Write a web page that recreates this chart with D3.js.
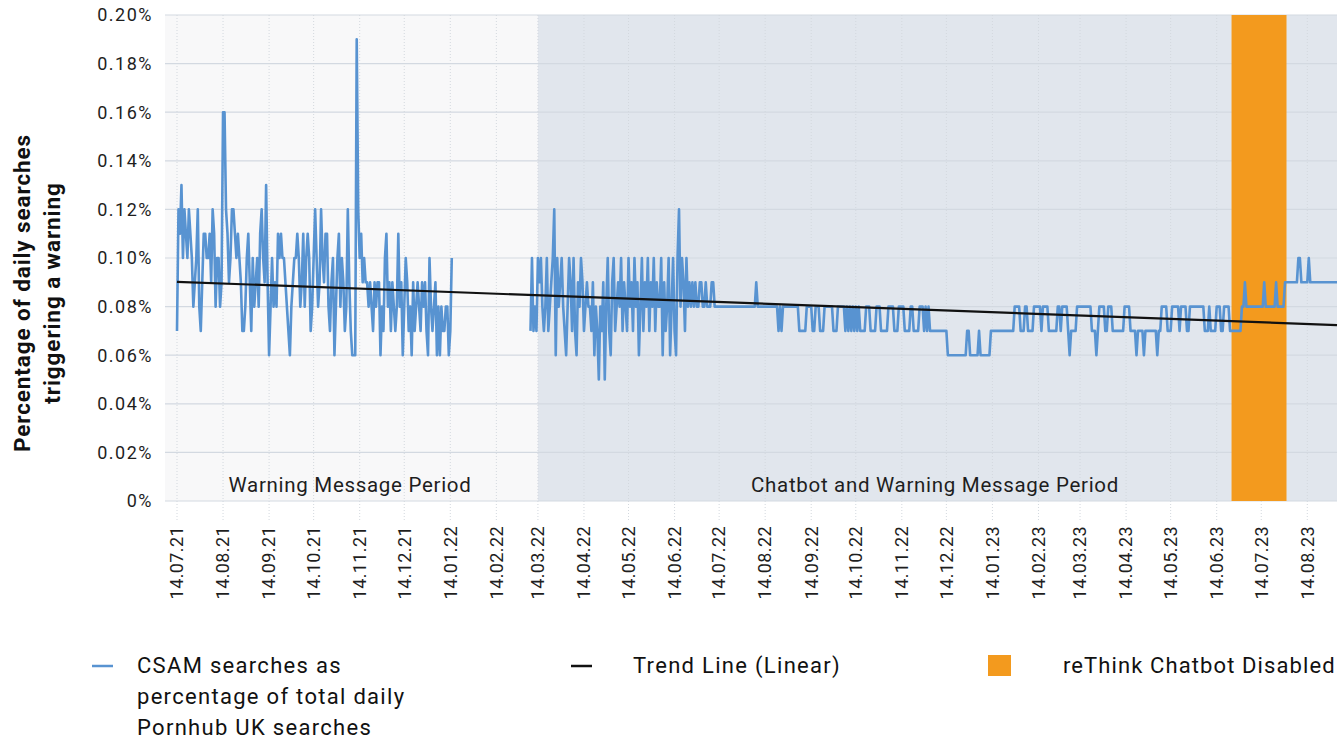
<!DOCTYPE html>
<html>
<head>
<meta charset="utf-8">
<script src="https://cdn.jsdelivr.net/npm/d3@7"></script>
<style>
  body { margin: 0; background: #fff; font-family: Roboto, "Noto Sans", sans-serif; }
</style>
</head>
<body>
<script>
// daily values in hundredths of a percent (7 = 0.07%)
const seg1Start = new Date(2021, 6, 14);
const seg1Values = [
  7,12,11,13,10,12,11,10,12,11,
  10,8,9,10,12,8,7,9,11,11,
  10,10,11,9,12,11,8,10,10,8,
  9,16,16,12,11,9,10,12,12,11,
  10,11,10,9,7,7,8,10,11,9,
  7,10,8,9,10,8,11,12,10,9,
  13,9,6,8,10,8,9,8,11,10,
  11,10,10,9,8,7,6,8,9,10,
  10,11,10,8,9,11,8,10,11,10,
  7,8,10,12,10,8,9,12,10,9,
  11,11,8,7,9,10,6,8,10,11,
  8,10,9,7,8,12,9,7,6,6,
  6,19,12,10,11,9,10,9,9,8,
  9,8,7,9,8,9,9,6,8,7,
  10,11,8,9,7,9,8,7,8,11,
  8,9,6,8,10,9,7,8,6,9,
  7,8,9,8,7,9,8,9,7,6,
  10,8,7,8,9,6,8,6,8,7,
  7,8,8,6,7,10
];

const seg2Start = new Date(2022, 2, 9);
const seg2Values = [
  7,10,7,8,7,10,9,10,8,7,
  8,10,7,8,9,10,12,6,10,8,
  9,10,8,7,6,8,10,9,7,10,
  7,6,9,8,10,9,7,8,9,8,
  8,7,9,6,8,7,5,8,7,9,
  5,8,10,7,6,9,10,7,8,9,
  8,10,7,9,8,7,10,8,9,7,
  10,8,9,6,8,10,7,9,8,10,
  7,9,8,10,7,9,8,8,10,6,
  9,7,8,10,6,8,10,7,6,10,
  12,8,10,9,7,10,8,9,8,9,
  8,9,8,8,9,9,8,8,9,8,
  8,8,9,9,8,8,8,8,
  8,8,8,8,8,8,8,8,8,8,
  8,8,8,8,8,8,8,8,8,8,
  8,8,8,8,9,8,8,8,8,8,
  8,8,8,8,8,8,8,8,8,7,
  8,7,8,8,8,8,8,8,8,8,
  8,8,8,7,7,7,7,7,8,8,
  8,8,7,7,8,8,8,7,7,7,
  8,8,8,8,8,8,7,7,7,8,
  8,8,8,8,7,8,7,8,7,8,
  7,8,7,8,7,7,7,7,8,8,
  8,7,7,7,7,8,8,8,7,7,
  7,7,7,8,8,8,8,7,7,7,
  8,8,8,8,7,7,7,7,8,8,
  7,7,7,7,8,8,8,7,8,7,
  8,7,7,7,7,7,7,7,7,7,
  7,7,7,6,6,6,6,6,6,6,
  6,6,6,6,6,6,7,7,6,6,
  6,6,6,6,7,6,6,6,6,6,
  6,6,7,7,7,7,7,7,7,7,
  7,7,7,7,7,7,7,7,8,8,
  8,8,7,7,7,8,8,7,7,7,
  7,8,8,8,8,8,7,8,8,8,
  8,7,7,7,7,7,7,8,8,7,
  8,8,8,8,7,6,7,7,7,7,
  8,8,8,8,8,8,8,8,8,8,
  7,7,7,6,7,8,8,8,8,7,
  7,8,8,8,7,7,7,7,7,7,
  7,7,8,8,8,8,7,7,7,7,
  6,7,7,7,7,6,7,7,7,7,
  7,7,7,7,6,7,7,8,8,8,
  8,7,7,7,8,8,8,8,8,7,
  8,8,8,8,7,7,8,8,8,8,
  8,8,8,8,8,8,7,7,7,8,
  7,7,7,7,8,8,8,7,7,8,
  8,8,8,7,7,7,7,7,7,7,
  7,8,8,9,8,8,8,8,8,8,
  8,8,8,8,8,8,9,8,8,8,
  8,8,8,8,9,8,8,8,8,8,
  9,9,9,9,9,9,9,9,9,10,
  10,9,9,9,9,9,10,9,9,9,
  9,9,9,9,9,9,9,9,9,9,
  9,9,9,9,9,9
];

const trendValues = [0.0902, 0.0724];          // % at first and last day
const periods = [
  { name: "Warning Message Period", from: new Date(2021, 6, 14), to: new Date(2022, 2, 14), fill: "#f8f8f9" },
  { name: "Chatbot and Warning Message Period", from: new Date(2022, 2, 14), to: new Date(2023, 8, 3), fill: "#e1e6ed" }
];
const disabledFrom = new Date(2023, 5, 24);
const disabledTo = new Date(2023, 6, 31);
const yTicks = [0, 0.02, 0.04, 0.06, 0.08, 0.10, 0.12, 0.14, 0.16, 0.18, 0.20];
const xTickLabels = ["14.07.21","14.08.21","14.09.21","14.10.21","14.11.21","14.12.21","14.01.22",
  "14.02.22","14.03.22","14.04.22","14.05.22","14.06.22","14.07.22","14.08.22","14.09.22","14.10.22",
  "14.11.22","14.12.22","14.01.23","14.02.23","14.03.23","14.04.23","14.05.23","14.06.23","14.07.23","14.08.23"];
const legendLabels = [
  ["CSAM searches as", "percentage of total daily", "Pornhub UK searches"],
  ["Trend Line (Linear)"],
  ["reThink Chatbot Disabled"]
];

const width = 1342, height = 739;
const gridLeft = 165, plotLeft = 177, plotRight = 1337, plotTop = 15, plotBottom = 501;

const parseTick = d3.timeParse("%d.%m.%y");
const endDate = new Date(2023, 8, 3);

const x = d3.scaleTime().domain([seg1Start, endDate]).range([plotLeft, plotRight]);
const y = d3.scaleLinear().domain([0, 0.2]).range([plotBottom, plotTop]);

const series = [];
seg1Values.forEach((v, i) => series.push({ date: d3.timeDay.offset(seg1Start, i), value: v / 100 }));
series.push({ date: d3.timeDay.offset(seg1Start, seg1Values.length), value: null });
seg2Values.forEach((v, i) => series.push({ date: d3.timeDay.offset(seg2Start, i), value: v / 100 }));

const svg = d3.select("body").append("svg")
  .attr("width", width)
  .attr("height", height);

// period backgrounds
svg.selectAll("rect.period")
  .data(periods)
  .join("rect")
  .attr("class", "period")
  .attr("x", (d, i) => i === 0 ? gridLeft : x(d.from))
  .attr("y", plotTop)
  .attr("width", (d, i) => x(d.to) - (i === 0 ? gridLeft : x(d.from)))
  .attr("height", plotBottom - plotTop)
  .attr("fill", d => d.fill);

// horizontal gridlines
svg.append("g")
  .selectAll("line")
  .data(yTicks)
  .join("line")
  .attr("x1", gridLeft)
  .attr("x2", plotRight)
  .attr("y1", d => y(d))
  .attr("y2", d => y(d))
  .attr("stroke", "#d3d9e1")
  .attr("stroke-width", 1.2);

// dotted vertical gridlines
const tickDates = xTickLabels.map(parseTick);
svg.append("g")
  .selectAll("line")
  .data(tickDates)
  .join("line")
  .attr("x1", d => x(d))
  .attr("x2", d => x(d))
  .attr("y1", plotTop)
  .attr("y2", plotBottom + 20)
  .attr("stroke", "#d3d8de")
  .attr("stroke-dasharray", "1,2");

// chatbot disabled band
svg.append("rect")
  .attr("x", x(disabledFrom))
  .attr("y", plotTop)
  .attr("width", x(disabledTo) - x(disabledFrom))
  .attr("height", plotBottom - plotTop)
  .attr("fill", "#f39a1e");

// period labels
svg.selectAll("text.period")
  .data(periods)
  .join("text")
  .attr("class", "period")
  .attr("x", (d, i) => i === 0 ? 350 : 935)
  .attr("y", 492)
  .attr("text-anchor", "middle")
  .attr("font-size", 20.5)
  .attr("letter-spacing", 0.7)
  .attr("fill", "#1e1e1e")
  .text(d => d.name);

// data line
const line = d3.line()
  .defined(d => d.value !== null)
  .x(d => x(d.date))
  .y(d => y(d.value));

svg.append("path")
  .datum(series)
  .attr("fill", "none")
  .attr("stroke", "#5893d1")
  .attr("stroke-width", 2.6)
  .attr("stroke-linejoin", "round")
  .attr("d", line);

// trend line
svg.append("line")
  .attr("x1", x(seg1Start))
  .attr("x2", x(endDate))
  .attr("y1", y(trendValues[0]))
  .attr("y2", y(trendValues[1]))
  .attr("stroke", "#111")
  .attr("stroke-width", 2.2);

// y axis labels
svg.append("g")
  .selectAll("text")
  .data(yTicks)
  .join("text")
  .attr("x", 153)
  .attr("y", d => y(d))
  .attr("dy", "0.35em")
  .attr("text-anchor", "end")
  .attr("font-size", 18)
  .attr("letter-spacing", 1.5)
  .attr("fill", "#1e1e1e")
  .text(d => d === 0 ? "0%" : d3.format(".2f")(d) + "%");

// x axis labels
svg.append("g")
  .selectAll("text")
  .data(xTickLabels)
  .join("text")
  .attr("transform", d => `translate(${x(parseTick(d))},526) rotate(-90)`)
  .attr("dy", "0.35em")
  .attr("text-anchor", "end")
  .attr("font-size", 18)
  .attr("letter-spacing", 0.4)
  .attr("fill", "#1e1e1e")
  .text(d => d);

// y title
const yTitle = svg.append("text")
  .attr("transform", "translate(22,293) rotate(-90)")
  .attr("text-anchor", "middle")
  .attr("font-size", 22.5)
  .attr("letter-spacing", 0.9)
  .attr("font-weight", "bold")
  .attr("fill", "#111");
yTitle.append("tspan").attr("x", 0).attr("dy", "0.35em").text("Percentage of daily searches");
yTitle.append("tspan").attr("x", 0).attr("dy", "1.35em").text("triggering a warning");

// legend
const legendX = [92, 571, 988];
const legendTextX = [137, 633, 1063];
legendLabels.forEach((lines, i) => {
  const g = svg.append("g");
  if (i === 0 || i === 1) {
    g.append("line")
      .attr("x1", legendX[i]).attr("x2", legendX[i] + 21)
      .attr("y1", 666).attr("y2", 666)
      .attr("stroke", i === 0 ? "#5893d1" : "#111")
      .attr("stroke-width", 2.5);
  } else {
    g.append("rect")
      .attr("x", legendX[i]).attr("y", 655)
      .attr("width", 23).attr("height", 21)
      .attr("fill", "#f39a1e");
  }
  lines.forEach((t, j) => {
    g.append("text")
      .attr("x", legendTextX[i])
      .attr("y", 665 + j * 31)
      .attr("dy", "0.35em")
      .attr("font-size", 22)
      .attr("letter-spacing", i === 2 ? 1.1 : 1.3)
      .attr("fill", "#111")
      .text(t);
  });
});
</script>
</body>
</html>
